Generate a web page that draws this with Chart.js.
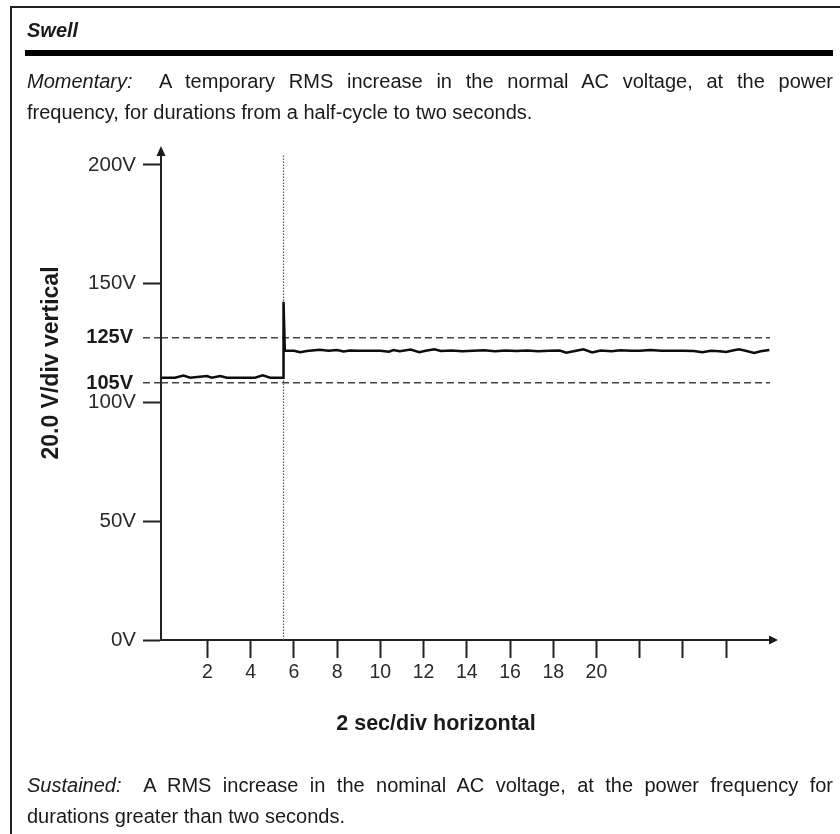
<!DOCTYPE html>
<html>
<head>
<meta charset="utf-8">
<script src="https://cdn.jsdelivr.net/npm/chart.js@4"></script>
<style>
  html, body { margin:0; padding:0; background:#fff; }
  #page { position:relative; width:840px; height:834px; overflow:hidden; font-family:'Liberation Sans', Arial, Helvetica, sans-serif; color:#1a1a1a; }
  #frameL { position:absolute; left:10px; top:6px; width:2px; height:830px; background:#222; }
  #frameT { position:absolute; left:10px; top:6px; width:832px; height:2px; background:#222; }
  #title { position:absolute; left:27px; top:20px; font-size:20px; font-weight:bold; font-style:italic; line-height:20px; }
  #rule { position:absolute; left:25px; top:50px; width:808px; height:6px; background:#000; }
  .para { position:absolute; left:27px; width:806px; font-size:20px; line-height:31px; }
  .jl { text-align:justify; text-align-last:justify; }
  #p1 { top:66px; }
  #p2 { top:770px; }
  canvas { position:absolute; left:0; top:0; }
</style>
</head>
<body>
<div id="page">
  <canvas id="c" width="840" height="834"></canvas>
  <div id="frameL"></div>
  <div id="frameT"></div>
  <div id="title">Swell</div>
  <div id="rule"></div>
  <div class="para" id="p1">
    <div class="jl"><i>Momentary:</i>&nbsp; A temporary RMS increase in the normal AC voltage, at the power</div>
    <div>frequency, for durations from a half-cycle to two seconds.</div>
  </div>
  <div class="para" id="p2">
    <div class="jl"><i>Sustained:</i>&nbsp; A RMS increase in the nominal AC voltage, at the power frequency for</div>
    <div>durations greater than two seconds.</div>
  </div>
</div>
<script>
// ---- data ----
const xTickValues = [2, 4, 6, 8, 10, 12, 14, 16, 18, 20, 22, 24, 26];
const xTickLabels = ['2', '4', '6', '8', '10', '12', '14', '16', '18', '20', '', '', ''];
const yTickValues = [0, 50, 100, 150, 200];
const yTickLabels = ['0V', '50V', '100V', '150V', '200V'];
const limitValues = [105, 125];
const limitLabels = ['105V', '125V'];
const swellTime = 5.52;

// RMS voltage trace (time in s, volts)
const traceTime = [-0.15, 0.5, 0.89, 1.2, 1.97, 2.2, 2.59, 2.9, 4.2, 4.56, 4.9, 5.52,
  5.52, 5.58, 6.0, 6.3, 6.6, 7.2, 7.6, 8.0, 8.3, 8.6, 9.0, 9.5, 10.0, 10.4, 10.6, 10.9,
  11.4, 11.8, 12.1, 12.5, 12.8, 13.3, 13.8, 14.3, 14.8, 15.3, 15.8, 16.3, 16.8, 17.3,
  17.8, 18.3, 18.6, 19.0, 19.4, 19.8, 20.2, 20.7, 21.1, 21.6, 22.0, 22.5, 23.0, 23.5,
  24.0, 24.5, 24.9, 25.3, 25.7, 26.0, 26.3, 26.6, 26.9, 27.3, 27.6, 28.0];
const traceVolts = [110.4, 110.4, 111.3, 110.4, 111.1, 110.4, 111.1, 110.4, 110.4, 111.4, 110.4, 110.4,
  142.4, 121.8, 121.8, 121.2, 121.7, 122.2, 121.8, 122.1, 121.5, 121.9, 121.8, 121.8, 121.8, 121.4, 122.1, 121.6,
  122.3, 121.2, 121.8, 122.4, 121.7, 121.9, 121.6, 121.8, 122.0, 121.6, 121.9, 121.7, 121.9, 121.6,
  121.8, 121.9, 121.0, 121.7, 122.4, 121.1, 121.9, 121.6, 122.0, 121.8, 121.8, 122.1, 121.8, 121.8,
  121.8, 121.7, 121.2, 121.8, 121.6, 121.3, 121.9, 122.4, 121.8, 120.9, 121.6, 122.1];

const xTitle = '2 sec/div horizontal';
const yTitle = '20.0 V/div vertical';

// ---- chart ----
const FONT = "'Liberation Sans', Arial, Helvetica, sans-serif";
Chart.defaults.font.family = FONT;
Chart.defaults.color = '#2a2a2a';

const tracePts = traceTime.map((t, i) => ({x: t, y: traceVolts[i]}));

const extras = {
  id: 'extras',
  afterLayout(chart) {
    // let the limit-line axis share the label column of the main y axis
    const s = chart.scales.yLimits;
    s.left = 0;
    s.width = s.right;
  },
  afterDraw(chart) {
    const ctx = chart.ctx;
    const a = chart.chartArea;
    const xs = chart.scales.x;
    const ys = chart.scales.y;
    const x0 = xs.left, yb = ys.bottom;
    ctx.save();
    ctx.fillStyle = '#1a1a1a';
    // y arrow
    ctx.beginPath();
    ctx.moveTo(x0 - 4.5, a.top + 1);
    ctx.lineTo(x0 + 4.5, a.top + 1);
    ctx.lineTo(x0, a.top - 9);
    ctx.closePath();
    ctx.fill();
    // x arrow
    ctx.beginPath();
    ctx.moveTo(a.right - 1, yb - 4.5);
    ctx.lineTo(a.right - 1, yb + 4.5);
    ctx.lineTo(a.right + 8, yb);
    ctx.closePath();
    ctx.fill();
    // axis titles
    ctx.fillStyle = '#1a1a1a';
    ctx.textAlign = 'center';
    ctx.textBaseline = 'middle';
    ctx.font = 'bold 21.5px ' + FONT;
    ctx.fillText(xTitle, 436, 724);
    ctx.font = 'bold 23px ' + FONT;
    ctx.translate(52, 363);
    ctx.rotate(-Math.PI / 2);
    ctx.fillText(yTitle, 0, 0);
    ctx.restore();
  }
};

new Chart(document.getElementById('c'), {
  type: 'line',
  data: {
    datasets: [
      {
        label: 'RMS voltage',
        data: tracePts,
        borderColor: '#0d0d0d',
        borderWidth: 2.5,
        pointRadius: 0,
        tension: 0,
        yAxisID: 'y',
        order: 1
      },
      {
        label: 'Swell onset',
        data: [{x: swellTime, y: 0}, {x: swellTime, y: 204.2}],
        borderColor: '#555',
        borderWidth: 1.2,
        borderDash: [1.5, 1.5],
        pointRadius: 0,
        yAxisID: 'y',
        order: 2
      }
    ]
  },
  options: {
    responsive: false,
    animation: false,
    events: [],
    layout: { padding: { top: 155, right: 70, bottom: 0, left: 0 } },
    plugins: { legend: { display: false }, tooltip: { enabled: false }, title: { display: false } },
    scales: {
      x: {
        type: 'linear',
        min: -0.15,
        max: 28.03,
        afterBuildTicks: s => { s.ticks = xTickValues.map(v => ({value: v})); },
        afterFit: s => { s.height = 194; },
        ticks: {
          autoSkip: false,
          maxRotation: 0,
          padding: 3,
          font: { size: 19.5 },
          color: '#2a2a2a',
          callback: (v) => { const i = xTickValues.indexOf(v); return i >= 0 ? xTickLabels[i] : ''; }
        },
        grid: { drawOnChartArea: false, tickLength: 18, tickWidth: 2, tickColor: '#222' },
        border: { display: true, color: '#222', width: 2 }
      },
      y: {
        type: 'linear',
        position: 'left',
        weight: 1,
        min: 0,
        max: 204.2,
        afterBuildTicks: s => { s.ticks = yTickValues.map(v => ({value: v})); },
        afterFit: s => { s.width = 161; },
        ticks: {
          autoSkip: false,
          padding: 7,
          font: { size: 20.5 },
          color: '#2a2a2a',
          callback: (v) => { const i = yTickValues.indexOf(v); return i >= 0 ? yTickLabels[i] : ''; }
        },
        grid: { drawOnChartArea: false, tickLength: 18, tickWidth: 2, tickColor: '#222' },
        border: { display: true, color: '#222', width: 2 }
      },
      yLimits: {
        type: 'linear',
        position: 'left',
        weight: 0,
        min: -7.6,
        max: 205.1,
        afterBuildTicks: s => { s.ticks = limitValues.map(v => ({value: v})); },
        afterFit: s => { s.width = 0; },
        ticks: {
          autoSkip: false,
          padding: 10,
          font: { size: 20, weight: 'bold' },
          color: '#1a1a1a',
          callback: (v) => { const i = limitValues.indexOf(v); return i >= 0 ? limitLabels[i] : ''; }
        },
        grid: { drawOnChartArea: true, color: '#444', lineWidth: 1.5, tickLength: 18, tickWidth: 1.5, tickColor: '#444', tickBorderDash: [7, 4] },
        border: { display: false, dash: [7, 4] }
      }
    }
  },
  plugins: [extras]
});
</script>
</body>
</html>
